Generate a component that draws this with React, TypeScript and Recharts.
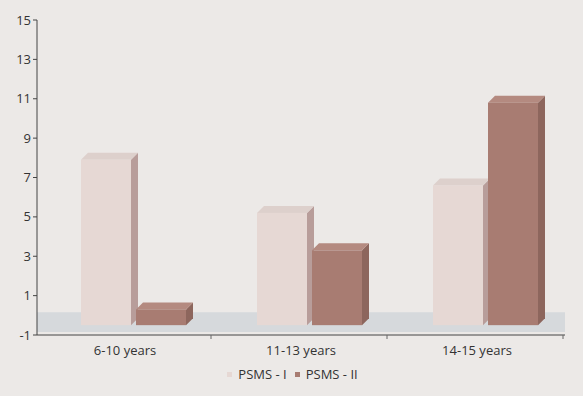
import React from 'react'
import {
  BarChart,
  Bar,
  XAxis,
  YAxis,
  ReferenceArea,
  Legend,
} from 'recharts'

const categories = ['6-10 years', '11-13 years', '14-15 years']
const psms1 = [7.9, 5.2, 6.6]
const psms2 = [0.3, 3.3, 10.8]
const yTicks = [-1, 1, 3, 5, 7, 9, 11, 13, 15]
const seriesNames = ['PSMS - I', 'PSMS - II']

const FLOOR = -0.5

const data = categories.map((name, i) => ({
  name,
  a: [FLOOR, psms1[i]],
  b: [FLOOR, psms2[i]],
}))

const palette = {
  a: { front: '#e6d8d4', top: '#ddd0cc', side: '#b89d9a' },
  b: { front: '#a87c72', top: '#b48a80', side: '#8d665d' },
}

const font = '"Open Sans", "DejaVu Sans", sans-serif'

// fake 3D: front face + top + right side
function Bar3D(props: any, key: 'a' | 'b') {
  const { x, y, width, height } = props
  if (width == null || height == null) return null
  const c = palette[key]
  const dx = 7
  const dy = 7
  const sx = x + 8
  return (
    <g>
      <polygon
        points={`${sx + width},${y} ${sx + width + dx},${y - dy} ${sx + width + dx},${y + height - dy} ${sx + width},${y + height}`}
        fill={c.side}
      />
      <polygon
        points={`${sx},${y} ${sx + dx},${y - dy} ${sx + width + dx},${y - dy} ${sx + width},${y}`}
        fill={c.top}
      />
      <rect x={sx} y={y} width={width} height={height} fill={c.front} />
    </g>
  )
}

function XTick(props: any) {
  const { x, y, payload } = props
  return (
    <g>
      <line x1={x + 86} y1={y - 8} x2={x + 86} y2={y - 4} stroke="#666" />
      <text
        x={x}
        y={y + 12}
        textAnchor="middle"
        fontSize={13}
        fill="#333"
        fontFamily={font}
      >
        {payload.value}
      </text>
    </g>
  )
}

function LegendContent() {
  const cols = [palette.a.front, palette.b.front]
  return (
    <div
      style={{
        display: 'flex',
        justifyContent: 'center',
        gap: 8,
        fontFamily: font,
        fontSize: 13,
        color: '#333',
        paddingLeft: 20,
      }}
    >
      {seriesNames.map((n, i) => (
        <span key={n} style={{ display: 'flex', alignItems: 'center' }}>
          <span
            style={{
              display: 'inline-block',
              width: 5,
              height: 5,
              background: cols[i],
              marginRight: 6,
            }}
          />
          {n}
        </span>
      ))}
    </div>
  )
}

export default function App() {
  return (
    <div
      style={{
        position: 'fixed',
        left: 0,
        top: 0,
        width: 583,
        height: 396,
        background: '#ece9e7',
      }}
    >
      <BarChart
        width={583}
        height={396}
        data={data}
        margin={{ top: 20, right: 18, left: 0, bottom: 5 }}
        barSize={50}
        barGap={5}
      >
        <ReferenceArea y1={-0.85} y2={0.15} fill="#d6d9dc" fillOpacity={1} stroke="none" />
        <XAxis
          dataKey="name"
          height={30}
          axisLine={{ stroke: '#444' }}
          tickLine={false}
          tick={<XTick />}
        />
        <YAxis
          type="number"
          domain={[-1, 15]}
          ticks={yTicks}
          width={37}
          axisLine={{ stroke: '#444' }}
          tickLine={{ stroke: '#444' }}
          tickSize={4}
          tick={{ fontSize: 13, fill: '#333', fontFamily: font }}
        />
        <Legend height={26} verticalAlign="bottom" content={<LegendContent />} />
        <Bar
          dataKey="a"
          name={seriesNames[0]}
          isAnimationActive={false}
          shape={(p: any) => Bar3D(p, 'a')}
        />
        <Bar
          dataKey="b"
          name={seriesNames[1]}
          isAnimationActive={false}
          shape={(p: any) => Bar3D(p, 'b')}
        />
      </BarChart>
    </div>
  )
}
